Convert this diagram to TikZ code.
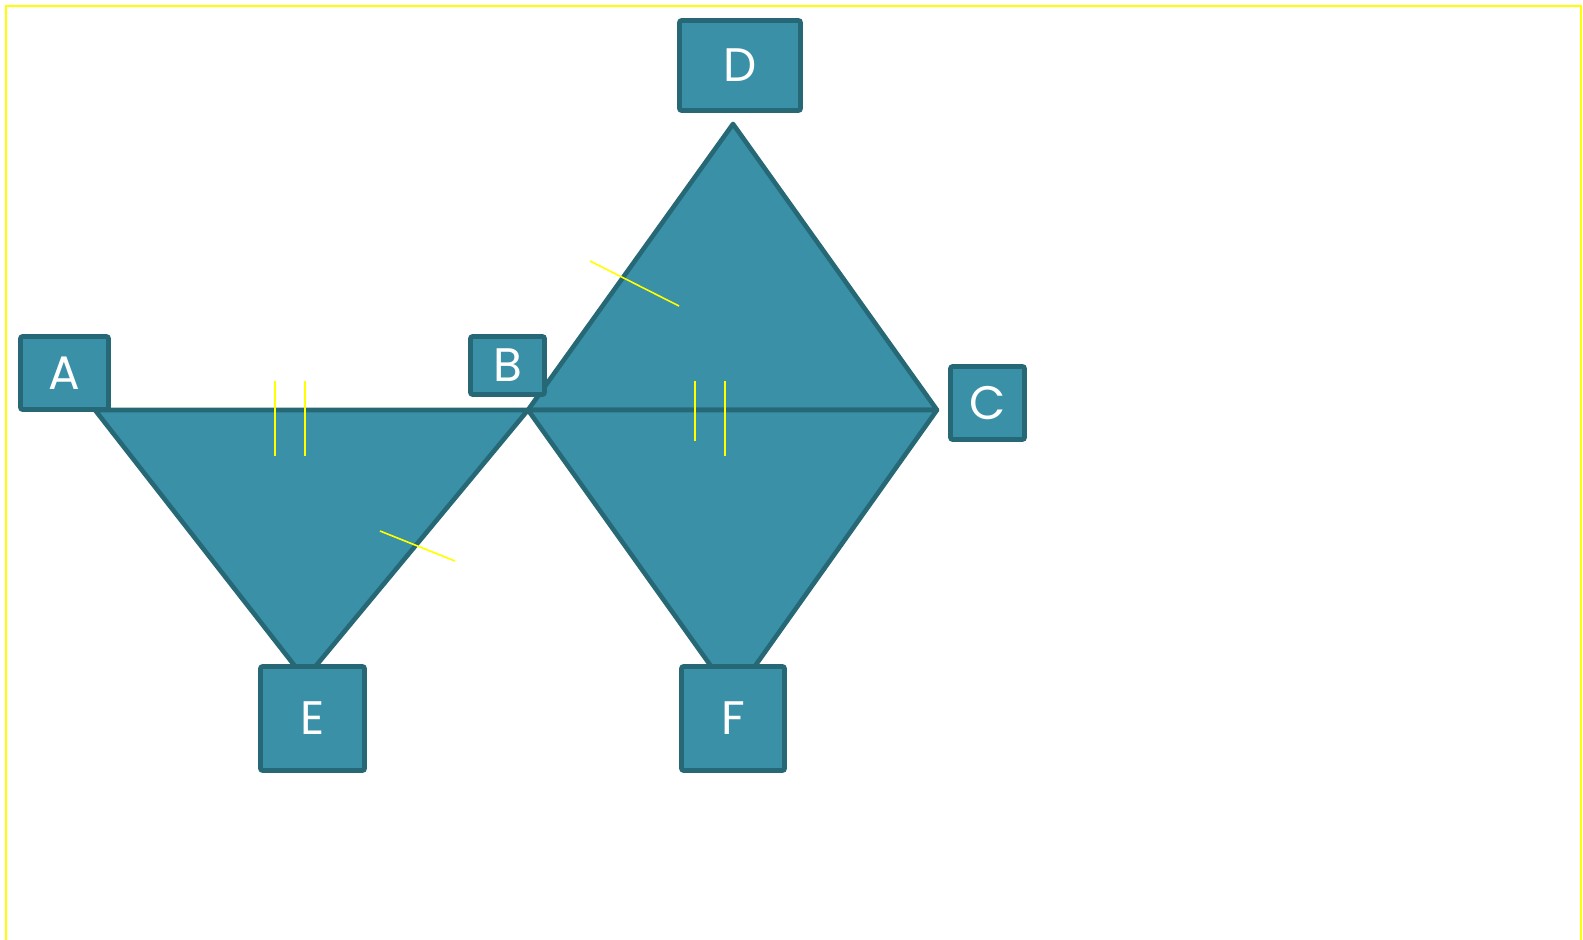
\documentclass[tikz,border=0pt]{standalone}
\usepackage{fontspec}
\setmainfont{Poppins}
\usepackage{xcolor}
\definecolor{tealfill}{RGB}{58,144,167}
\definecolor{tealline}{RGB}{38,104,117}
\definecolor{marker}{RGB}{255,255,0}
\tikzset{%
    vertexbox/.style 2 args={%
        draw=tealline, fill=tealfill, line width=2.3pt, rounded corners=1pt,
        text=white, inner sep=0pt, font=\fontsize{23.5}{23.5}\selectfont,
        minimum width=#1, minimum height=#2
    },
    face/.style={draw=tealline, fill=tealfill, line width=2.3pt, line join=round},
    tick/.style={draw=marker, line width=0.8pt}
}
\begin{document}
\begin{tikzpicture}[x=0.5pt,y=-0.5pt]
    \useasboundingbox (0,0) rectangle (1583,940);
    \draw[marker, line width=1pt] (6,940) -- (6,6) -- (1581,6) -- (1581,940);
%-----------------------------------------------
    \coordinate (a) at (95,410);
    \coordinate (b) at (528,410);
    \coordinate (c) at (937,410);
    \coordinate (d) at (733,124);
    \coordinate (e) at (305,679);
    \coordinate (f) at (733,697);
%-----------------------------------------------
    \draw[face] (a) -- (b) -- (e) -- cycle;
    \draw[face] (b) -- (d) -- (c) -- cycle;
    \draw[face] (b) -- (c) -- (f) -- cycle;
%-----------------------------------------------
    \draw[tick] (275,381) -- (275,456);
    \draw[tick] (305,381) -- (305,456);
    \draw[tick] (695,381) -- (695,441);
    \draw[tick] (725,381) -- (725,456);
    \draw[tick] (380,531) -- (455,561);
    \draw[tick] (590,261) -- (679,306);
%-----------------------------------------------
    \node[vertexbox={44pt}{36.5pt}] (A) at (64.5,373) {A};
    \node[vertexbox={37pt}{29pt}] (B) at (507.5,365.5) {B};
    \node[vertexbox={37pt}{36.5pt}] (C) at (987.5,403) {C};
    \node[vertexbox={60.5pt}{45pt}] (D) at (740,65.5) {D};
    \node[vertexbox={52pt}{52pt}] (E) at (312.5,718.5) {E};
    \node[vertexbox={51.5pt}{52pt}] (F) at (733,718.5) {F};
\end{tikzpicture}
\end{document}
